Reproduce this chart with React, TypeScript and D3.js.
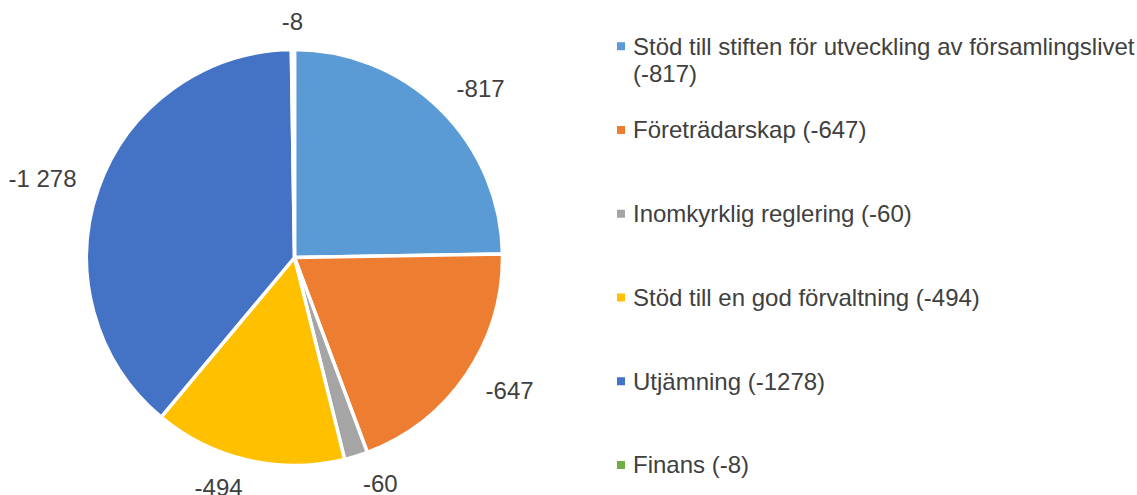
import React from "react";
import * as d3 from "d3";

const categories = [
  "Stöd till stiften för utveckling av församlingslivet",
  "Företrädarskap",
  "Inomkyrklig reglering",
  "Stöd till en god förvaltning",
  "Utjämning",
  "Finans",
];
const values = [-817, -647, -60, -494, -1278, -8];
const valueLabels = ["-817", "-647", "-60", "-494", "-1 278", "-8"];
const colors = ["#5B9BD5", "#ED7D31", "#A5A5A5", "#FFC000", "#4472C4", "#70AD47"];

const W = 1137;
const H = 495;
const cx = 294.5;
const cy = 257.5;
const R = 208;
const gap = 25;
const FONT = "'Liberation Sans', Arial, sans-serif";
const TEXT = "#404040";

function textWidth(s: string, size: number) {
  if (typeof document === "undefined") return s.length * size * 0.55;
  const c = document.createElement("canvas").getContext("2d")!;
  c.font = `${size}px ${FONT}`;
  return c.measureText(s).width;
}

export default function App() {
  const pie = d3
    .pie<number>()
    .value((d) => Math.abs(d))
    .sort(null);
  const arcs = pie(values);
  const arc = d3.arc<d3.PieArcDatum<number>>().innerRadius(0).outerRadius(R);

  const legendY = d3.scaleLinear().domain([0, 5]).range([46.25, 465]);

  const legendItems = categories.map((c, i) => {
    const full = `${c} (${values[i]})`;
    const lines = textWidth(full, 24) > 500 ? [c, `(${values[i]})`] : [full];
    return lines;
  });

  return (
    <svg
      width={W}
      height={H}
      style={{ position: "absolute", left: 0, top: 0, background: "#fff" }}
      fontFamily={FONT}
    >
      <g>
        {arcs.map((a, i) => (
          <path
            key={i}
            d={arc(a) || ""}
            transform={`translate(${cx},${cy})`}
            fill={colors[i]}
            stroke="#fff"
            strokeWidth={3.5}
          />
        ))}
      </g>
      <g>
        {arcs.map((a, i) => {
          const ang = (a.startAngle + a.endAngle) / 2;
          const s = Math.sin(ang);
          const c = Math.cos(ang);
          const w = textWidth(valueLabels[i], 24);
          const rr = R - 1.75 + gap;
          const hx = Math.max(-1, Math.min(1, s * 5));
          const x = cx + rr * s + (w / 2) * hx;
          const y = cy - rr * c - 5 * c;
          return (
            <text
              key={i}
              x={x}
              y={y}
              dy="0.35em"
              textAnchor="middle"
              fontSize={24}
              fill={TEXT}
            >
              {valueLabels[i]}
            </text>
          );
        })}
      </g>
      <g>
        {legendItems.map((lines, i) => (
          <g key={i}>
            <rect x={617} y={legendY(i) - 4} width={8} height={8} fill={colors[i]} />
            {lines.map((l, j) => (
              <text
                key={j}
                x={633}
                y={legendY(i) + j * 27}
                dy="0.35em"
                fontSize={24}
                fill={TEXT}
              >
                {l}
              </text>
            ))}
          </g>
        ))}
      </g>
    </svg>
  );
}
